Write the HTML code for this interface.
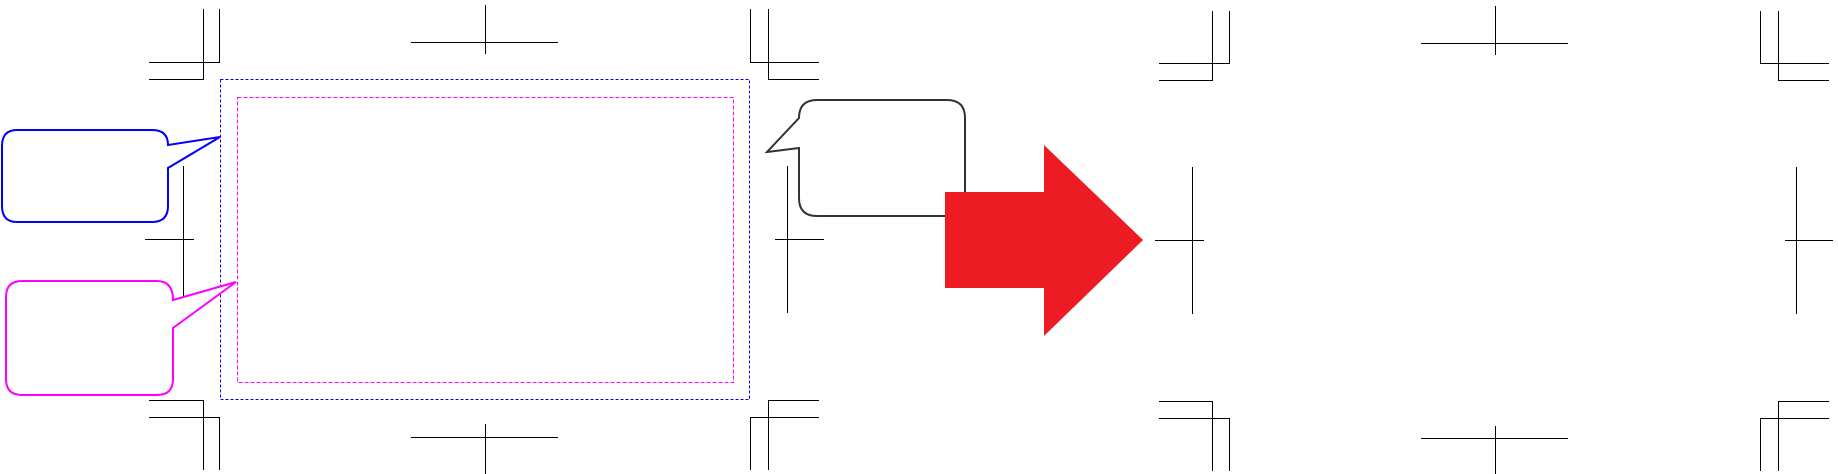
<!DOCTYPE html>
<html><head><style>html,body{margin:0;padding:0;background:#fff;}svg{display:block}</style></head>
<body>
<svg width="1838" height="474" viewBox="0 0 1838 474" xmlns="http://www.w3.org/2000/svg">
<g stroke="#000" stroke-width="1" fill="none" shape-rendering="crispEdges">
<!-- left page marks -->
<path d="M219.5 9V62.5H149 M203.5 9V79.5H149"/>
<path d="M750.5 9V62.5H819 M768.5 9V79.5H819"/>
<path d="M411 42.5H558 M485.5 5V54"/>
<path d="M149 400.5H203.5V470 M149 417.5H219.5V470"/>
<path d="M819 400.5H768.5V470 M819 417.5H750.5V470"/>
<path d="M411 437.5H558 M485.5 424V474"/>
<path d="M183.5 166V297 M145 239.5H194"/>
<path d="M787.5 166V313 M775 239.5H824"/>
<!-- right page marks -->
<path d="M1229.5 11V63.5H1159 M1212.5 11V80.5H1159"/>
<path d="M1760.5 11V63.5H1829 M1778.5 11V80.5H1829"/>
<path d="M1421 43.5H1568 M1495.5 6V55"/>
<path d="M1159 401.5H1212.5V471 M1159 418.5H1229.5V471"/>
<path d="M1829 401.5H1778.5V471 M1829 418.5H1760.5V471"/>
<path d="M1421 438.5H1568 M1495.5 426V474"/>
<path d="M1192.5 167V314 M1155 240.5H1204"/>
<path d="M1796.5 167V314 M1785 240.5H1833"/>
</g>
<rect x="220.5" y="79.5" width="529" height="320" fill="none" stroke="#0000ff" stroke-width="1" stroke-dasharray="3,2"/>
<rect x="237.5" y="97.5" width="496" height="285" fill="none" stroke="#ff00ff" stroke-width="1" stroke-dasharray="4,2"/>
<path d="M17 130H152Q168 130 168 145L220 137L168 168V206Q168 222 152 222H17Q2 222 2 206V146Q2 130 17 130Z" fill="#fff" stroke="#0000ff" stroke-width="2"/>
<path d="M22 281H157Q173 281 173 300L236 282L173 328V379Q173 395 157 395H22Q6 395 6 379V297Q6 281 22 281Z" fill="#fff" stroke="#ff00ff" stroke-width="2"/>
<path d="M817 100H947Q965 100 965 118V198Q965 216 947 216H817Q799 216 799 198V148L767 152L799 118Q799 100 817 100Z" fill="#fff" stroke="#333" stroke-width="2"/>
<path d="M945 192H1044V145L1143 240L1044 336V288H945Z" fill="#ed1c24"/>
</svg>
</body></html>
